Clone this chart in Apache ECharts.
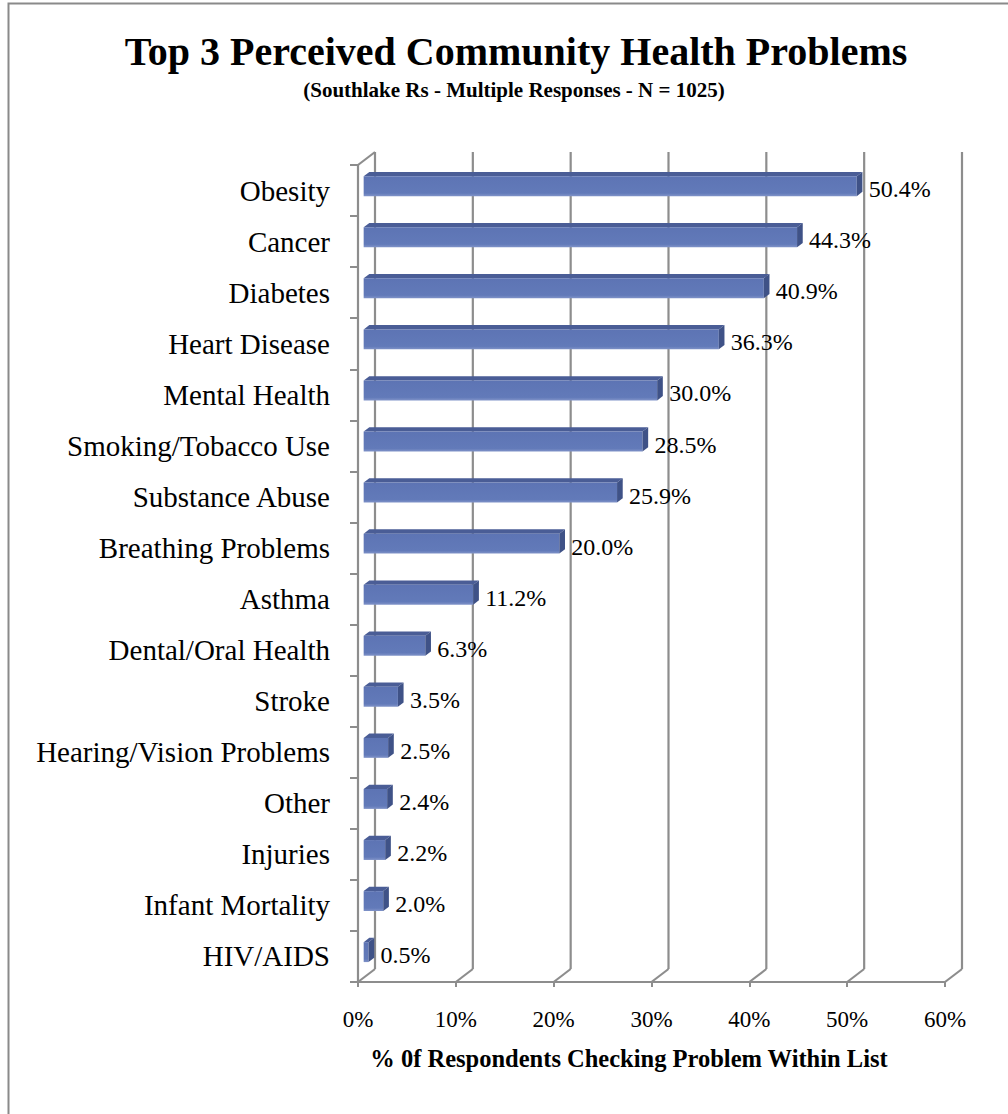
<!DOCTYPE html>
<html>
<head>
<meta charset="utf-8">
<script src="https://cdn.jsdelivr.net/npm/echarts@6/dist/echarts.min.js"></script>
<style>
  html, body { margin: 0; padding: 0; background: #fff; }
  #chart { width: 1008px; height: 1114px; }
</style>
</head>
<body>
<div id="chart"></div>
<script>
// Survey results: share of respondents naming each problem
const categories = [
  'Obesity', 'Cancer', 'Diabetes', 'Heart Disease', 'Mental Health',
  'Smoking/Tobacco Use', 'Substance Abuse', 'Breathing Problems', 'Asthma',
  'Dental/Oral Health', 'Stroke', 'Hearing/Vision Problems', 'Other',
  'Injuries', 'Infant Mortality', 'HIV/AIDS'
];
const values = [50.4, 44.3, 40.9, 36.3, 30.0, 28.5, 25.9, 20.0, 11.2, 6.3, 3.5, 2.5, 2.4, 2.2, 2.0, 0.5];
const tickValues = [0, 10, 20, 30, 40, 50, 60];

const titleText = 'Top 3 Perceived Community Health Problems';
const subtitleText = '(Southlake Rs - Multiple Responses - N = 1025)';
const axisTitle = '% 0f Respondents Checking Problem Within List';

// 3-D depth of the plot box (wall offset in pixels)
const DX = 17, DY = 13;
const SERIF = '"Liberation Serif", "Times New Roman", serif';
const GRID_COLOR = '#8d8d8d';

const chart = echarts.init(document.getElementById('chart'), null, { renderer: 'svg' });

function renderWalls(params, api) {
  const cs = params.coordSys;
  const v = api.value(0);
  const x = api.coord([v, 0])[0];
  const top = cs.y, bottom = cs.y + cs.height;
  const style = { stroke: GRID_COLOR, lineWidth: 2.2, fill: null };
  const children = [
    { type: 'line', shape: { x1: x + DX, y1: top - DY, x2: x + DX, y2: bottom - DY }, style },
    { type: 'line', shape: { x1: x, y1: bottom, x2: x + DX, y2: bottom - DY }, style }
  ];
  if (v === tickValues[0]) {
    children.push({ type: 'line', shape: { x1: x, y1: top, x2: x + DX, y2: top - DY }, style });
  }
  return { type: 'group', children };
}

function renderBars(params, api) {
  const v = api.value(0);
  const idx = api.value(1);
  const p0 = api.coord([0, idx]);
  const p1 = api.coord([v, idx]);
  const band = api.size([0, 1])[1];
  const h = band * 0.39;
  const fx = DX / 3, fy = DY / 3;     // front face sits one third into the box
  const bx = DX / 3, by = DY / 3;     // bar depth
  const x0 = p0[0] + fx, x1 = p1[0] + fx;
  const yc = p0[1] - fy;
  const yT = yc - h / 2, yB = yc + h / 2;
  return {
    type: 'group',
    children: [
      {
        type: 'polygon',
        shape: { points: [[x0, yT], [x1, yT], [x1 + bx, yT - by], [x0 + bx, yT - by]] },
        style: { fill: '#4a5d96' }
      },
      {
        type: 'rect',
        shape: { x: x0, y: yT, width: x1 - x0, height: h },
        style: {
          fill: new echarts.graphic.LinearGradient(0, 0, 0, 1, [
            { offset: 0, color: '#5d74b4' },
            { offset: 0.85, color: '#627ab9' },
            { offset: 1, color: '#8093c8' }
          ])
        }
      },
      {
        type: 'polygon',
        shape: { points: [[x1, yT], [x1 + bx, yT - by], [x1 + bx, yB - by], [x1, yB]] },
        style: { fill: '#3f5287' }
      },
      {
        type: 'text',
        style: {
          x: x1 + 12, y: yc + 3,
          text: v.toFixed(1) + '%',
          fill: '#000',
          font: '24px ' + SERIF,
          textAlign: 'left', textVerticalAlign: 'middle'
        }
      }
    ]
  };
}

chart.setOption({
  animation: false,
  backgroundColor: '#fff',
  grid: { left: 358, right: 63, top: 165, bottom: 132, containLabel: false },
  xAxis: {
    type: 'value', min: 0, max: 60, interval: 10,
    axisLine: { show: true, lineStyle: { color: GRID_COLOR, width: 2.2 } },
    axisTick: { show: true, length: 5, lineStyle: { color: GRID_COLOR, width: 2 } },
    splitLine: { show: false },
    axisLabel: {
      formatter: '{value}%', margin: 26, color: '#000',
      fontFamily: SERIF, fontSize: 23
    }
  },
  yAxis: {
    type: 'category', data: categories, inverse: true,
    axisLine: { show: true, lineStyle: { color: GRID_COLOR, width: 2.2 } },
    axisTick: { show: true, length: 8, lineStyle: { color: GRID_COLOR, width: 2 } },
    splitLine: { show: false },
    axisLabel: {
      margin: 28, color: '#000', fontFamily: SERIF, fontSize: 29
    }
  },
  series: [
    {
      type: 'custom', name: 'walls', z: 1, clip: false, silent: true,
      data: tickValues.map(v => [v, 0]),
      encode: { x: 0, y: 1 },
      renderItem: renderWalls
    },
    {
      type: 'custom', name: 'bars', z: 3, clip: false,
      data: values.map((v, i) => [v, i]),
      encode: { x: 0, y: 1 },
      renderItem: renderBars
    }
  ],
  graphic: [
    {
      type: 'rect', z: 0, silent: true,
      shape: { x: 8.5, y: 3.5, width: 1020, height: 1130 },
      style: { fill: null, stroke: '#8a8a8a', lineWidth: 2 }
    },
    {
      type: 'text', x: 516, y: 51,
      style: {
        text: titleText, fill: '#000', font: 'bold 40px ' + SERIF,
        textAlign: 'center', textVerticalAlign: 'middle'
      }
    },
    {
      type: 'text', x: 514, y: 90,
      style: {
        text: subtitleText, fill: '#000', font: 'bold 21px ' + SERIF,
        textAlign: 'center', textVerticalAlign: 'middle'
      }
    },
    {
      type: 'text', x: 629, y: 1058,
      style: {
        text: axisTitle, fill: '#000', font: 'bold 24.5px ' + SERIF,
        textAlign: 'center', textVerticalAlign: 'middle'
      }
    }
  ]
});
</script>
</body>
</html>
